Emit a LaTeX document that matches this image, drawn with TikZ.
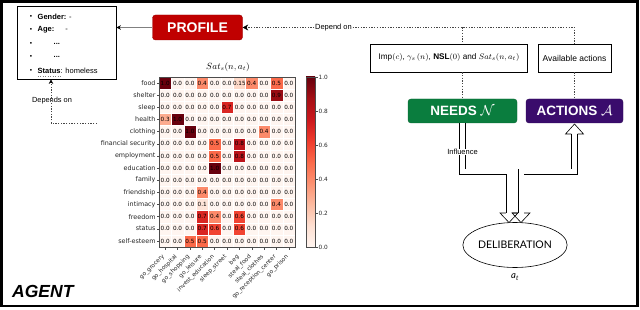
\documentclass[tikz,border=0pt]{standalone}
\usepackage{fontspec}
\setmainfont{Liberation Sans}
\newfontfamily\dejavu{DejaVu Sans}
\newfontfamily\latofam{Lato}
\usetikzlibrary{arrows.meta,shapes.geometric,calc}
\newcommand\myfs[1]{\fontsize{#1}{#1}\selectfont}
\definecolor{profred}{RGB}{192,0,0}
\definecolor{needgreen}{RGB}{10,125,62}
\definecolor{actpurple}{RGB}{58,12,108}
\definecolor{dotgray}{RGB}{70,70,70}
\definecolor{hm0}{RGB}{255,245,240}
\definecolor{hm1}{RGB}{254,228,216}
\definecolor{hmp}{RGB}{254,217,200}
\definecolor{hm3}{RGB}{252,171,143}
\definecolor{hm4}{RGB}{252,138,106}
\definecolor{hm5}{RGB}{251,106,74}
\definecolor{hm6}{RGB}{241,68,50}
\definecolor{hm7}{RGB}{217,38,35}
\definecolor{hm8}{RGB}{188,20,26}
\definecolor{hm9}{RGB}{153,12,19}
\definecolor{hmA}{RGB}{103,0,13}
\definecolor{cb0}{RGB}{255,245,240}
\definecolor{cb1}{RGB}{254,224,210}
\definecolor{cb2}{RGB}{252,187,161}
\definecolor{cb3}{RGB}{252,146,114}
\definecolor{cb4}{RGB}{251,106,74}
\definecolor{cb5}{RGB}{239,59,44}
\definecolor{cb6}{RGB}{203,24,29}
\definecolor{cb7}{RGB}{165,15,21}
\definecolor{cb8}{RGB}{103,0,13}
\begin{document}
\begin{tikzpicture}[x=1pt,y=-1pt,
  txt/.style={inner sep=0.5pt, font=\myfs{7.5}},
  dotline/.style={dotgray, line width=0.6pt, dash pattern=on 1.3pt off 1.4pt},
  colorbox/.style={rounded corners=3pt, minimum height=24pt, text=white, font=\bfseries\myfs{13.5}, inner sep=0pt},
  plainbox/.style={draw, line width=0.7pt, inner sep=0pt, font=\myfs{8.5}},
  celltxt/.style={inner sep=0pt, font=\dejavu\myfs{5.7}},
  rowlab/.style={anchor=east, inner sep=0pt, font=\dejavu\myfs{6.4}, text=black!85},
  collab/.style={anchor=east, rotate=45, inner sep=0pt, font=\dejavu\myfs{5.8}, text=black!85},
  dbl/.style={line width=0.6pt, double=white, double distance=5pt},
  head/.style={line width=0.6pt, line join=miter}
]
\useasboundingbox (0,0) rectangle (640,310);
\draw[line width=2.6pt] (1.5,1.5) rectangle (637.5,306);

% profile list
\node[draw, line width=0.9pt, minimum width=99pt, minimum height=73pt, inner sep=0pt] (plist) at (66.5,42.5) {};
\foreach \yy in {17,30,44,57,71} \node[font=\myfs{6.5}, inner sep=0pt] at (31,\yy) {\textbullet};
\node[txt, anchor=west] (gender) at (37,17) {\textbf{Gender:} -};
\node[txt, anchor=west] (age) at (37,30) {\textbf{Age:}\hspace{11pt}-};
\node[txt, anchor=west] (dots1) at (53,44) {\textbf{...}};
\node[txt, anchor=west] (dots2) at (53,57) {\textbf{...}};
\node[txt, anchor=west] (status) at (37,71) {\textbf{Status}: homeless};
\draw[gray, line width=0.5pt, dotted] (37.5,76) -- (61,76);

% PROFILE
\node[colorbox, fill=profred, draw=profred!80!black, minimum width=90pt, minimum height=25pt, font=\bfseries\myfs{14}] (profile) at (197.5,27.5) {PROFILE};
\draw[gray, line width=0.6pt, -{Stealth[length=4.5pt,width=4.5pt,black]}] (profile.west) -- (profile.west -| plist.east);

\node[font=\myfs{7.5}, inner sep=0.5pt] (dep) at (333.5,27.5) {Depend on};
\draw[dotline, -{Stealth[length=5.5pt,width=6pt,black]}] (dep.west) -- (profile.east);

% boxes
\node[plainbox, minimum width=157pt, minimum height=28pt] (imp) at (449,58) {\myfs{8.2}Imp$(c)$, $\gamma_s\,(n)$, $\mathbf{NSL}(0)$ and $Sat_s(n,a_t)$};
\node[plainbox, minimum width=73pt, minimum height=28pt] (avail) at (574.5,58) {Available actions};

\node[colorbox, fill=needgreen, draw=needgreen!80!black, minimum width=109pt] (needs) at (462.5,111) {NEEDS $\mathcal{N}$};
\node[colorbox, fill=actpurple, draw=actpurple!80!black, minimum width=97pt] (actions) at (574.5,111) {ACTIONS $\mathcal{A}$};

\draw[dotline] (dep.east) -- (dep.east -| avail.north) -- (avail.north);
\draw[dotline] (needs.north |- dep.east) -- (needs.north |- imp.north);
\draw[dotline] (needs.north |- imp.south) -- (needs.north);
\draw[dotline] (avail.south) -- (actions.north);

% deliberation
\node[ellipse, draw, line width=0.6pt, minimum width=89pt, minimum height=45pt, inner sep=0pt, font=\latofam\myfs{10.5}] (delib) at (515,245) {DELIBERATION};
\node[font=\latofam\itshape\myfs{9.5}, inner sep=0pt] (at) at (515,277) {a\textsubscript{t}};

\coordinate (lbase) at (509,213);
\coordinate (rbase) at (521,213);
\coordinate (abase) at (574.5,134);
\draw[dbl] (needs.south) |- (lbase |- 0,172) -- (lbase);
\draw[dbl] (abase) |- (rbase |- 0,172) -- (rbase);
\draw[head] ($(lbase)+(-3.1,0)$) -- ++(-5.9,0) -- ++(9,9.5) -- ++(9,-9.5) -- ++(-5.9,0);
\draw[head] ($(rbase)+(-3.1,0)$) -- ++(-5.9,0) -- ++(9,9.5) -- ++(9,-9.5) -- ++(-5.9,0);
\draw[head, fill=white] ($(abase)+(-3.1,0)$) -- ++(-5.9,0) -- ++(9,-10) -- ++(9,10) -- ++(-5.9,0);
\node[fill=white, inner sep=0.6pt, font=\myfs{7.5}] (infl) at (462.5,152) {Influence};

% heatmap
\node[font=\myfs{9}, inner sep=0pt] (title) at (228,67) {$Sat_s(n, a_t)$};
\foreach \rowvals [count=\r from 0] in {
  {hmA/1.0,hm0/0.0,hm0/0.0,hm4/0.4,hm0/0.0,hm0/0.0,hmp/0.15,hm4/0.4,hm0/0.0,hm5/0.5,hm0/0.0},
  {hm0/0.0,hm0/0.0,hm0/0.0,hm0/0.0,hm0/0.0,hm0/0.0,hm0/0.0,hm0/0.0,hm0/0.0,hm9/0.9,hm0/0.0},
  {hm0/0.0,hm0/0.0,hm0/0.0,hm0/0.0,hm0/0.0,hm7/0.7,hm0/0.0,hm0/0.0,hm0/0.0,hm0/0.0,hm0/0.0},
  {hm3/0.3,hmA/1.0,hm0/0.0,hm0/0.0,hm0/0.0,hm0/0.0,hm0/0.0,hm0/0.0,hm0/0.0,hm0/0.0,hm0/0.0},
  {hm0/0.0,hm0/0.0,hmA/1.0,hm0/0.0,hm0/0.0,hm0/0.0,hm0/0.0,hm0/0.0,hm4/0.4,hm0/0.0,hm0/0.0},
  {hm0/0.0,hm0/0.0,hm0/0.0,hm0/0.0,hm5/0.5,hm0/0.0,hm8/0.8,hm0/0.0,hm0/0.0,hm0/0.0,hm0/0.0},
  {hm0/0.0,hm0/0.0,hm0/0.0,hm0/0.0,hm5/0.5,hm0/0.0,hm8/0.8,hm0/0.0,hm0/0.0,hm0/0.0,hm0/0.0},
  {hm0/0.0,hm0/0.0,hm0/0.0,hm0/0.0,hmA/1.0,hm0/0.0,hm0/0.0,hm0/0.0,hm0/0.0,hm0/0.0,hm0/0.0},
  {hm0/0.0,hm0/0.0,hm0/0.0,hm0/0.0,hm0/0.0,hm0/0.0,hm0/0.0,hm0/0.0,hm0/0.0,hm0/0.0,hm0/0.0},
  {hm0/0.0,hm0/0.0,hm0/0.0,hm4/0.4,hm0/0.0,hm0/0.0,hm0/0.0,hm0/0.0,hm0/0.0,hm0/0.0,hm0/0.0},
  {hm0/0.0,hm0/0.0,hm0/0.0,hm1/0.1,hm0/0.0,hm0/0.0,hm0/0.0,hm0/0.0,hm0/0.0,hm4/0.4,hm0/0.0},
  {hm0/0.0,hm0/0.0,hm0/0.0,hm7/0.7,hm4/0.4,hm0/0.0,hm6/0.6,hm0/0.0,hm0/0.0,hm0/0.0,hm0/0.0},
  {hm0/0.0,hm0/0.0,hm0/0.0,hm7/0.7,hm6/0.6,hm0/0.0,hm6/0.6,hm0/0.0,hm0/0.0,hm0/0.0,hm0/0.0},
  {hm0/0.0,hm0/0.0,hm5/0.5,hm5/0.5,hm0/0.0,hm0/0.0,hm0/0.0,hm0/0.0,hm0/0.0,hm0/0.0,hm0/0.0}} {
  \foreach \cl/\t [count=\c from 0] in \rowvals {
    \fill[\cl, draw=white, line width=0.25pt] ({159+\c*12.3636},{77+\r*12.1429}) rectangle ++(12.3636,12.1429);
    \node[celltxt] (v-\r-\c) at ({159+(\c+0.5)*12.3636},{77+(\r+0.5)*12.1429}) {\t};
  }
}
\coordinate (hmtl) at (159,77);
\coordinate (hmbr) at (295,247);
\draw[black!70, line width=0.5pt] (hmtl) rectangle (hmbr);
\foreach \lab [count=\r from 0] in {food,shelter,sleep,health,clothing,financial security,employment,education,family,friendship,intimacy,freedom,status,self-esteem} {
  \coordinate (rt-\r) at (159,{77+(\r+0.5)*12.1429});
  \draw[black!70, line width=0.4pt] (rt-\r) -- ++(-2.5,0) node[rowlab, xshift=-0.8pt] (rl-\r) {\lab};
}
\foreach \lab [count=\c from 0] in {go\_grocery,go\_hospital,go\_shopping,go\_leisure,invest\_education,sleep\_street,beg,steal\_food,steal\_clothes,go\_reception\_center,go\_prison} {
  \coordinate (cb-\c) at ({159+(\c+0.5)*12.3636},247);
  \draw[black!70, line width=0.4pt] (cb-\c) -- ++(0,2.5) coordinate (ct-\c);
  \node[collab] (cl-\c) at ($(ct-\c)+(-1.2,6.5)$) {\lab};
}

% colorbar
\foreach \i/\a/\b in {0/cb0/cb1,1/cb1/cb2,2/cb2/cb3,3/cb3/cb4,4/cb4/cb5,5/cb5/cb6,6/cb6/cb7,7/cb7/cb8} {
  \shade[bottom color=\a, top color=\b] (306,{247-(\i+1)*21.25}) rectangle (315,{247-\i*21.25+0.2});
}
\draw[black!70, line width=0.5pt] (306,77) rectangle (315,247);
\foreach \v [count=\k from 0] in {0.0,0.2,0.4,0.6,0.8,1.0} {
  \draw[black!70, line width=0.4pt] (315,{247-\k*34}) -- (317.5,{247-\k*34}) node[anchor=west, inner sep=0pt, xshift=1pt, font=\dejavu\myfs{5.8}, text=black!85] (tk-\k) {\v};
}

% depends on
\node[font=\myfs{7.4}, inner sep=0pt] (depon) at (52,101) {Depends on};
\coordinate (dend) at (97,123);
\draw[dotline, -{Stealth[length=4.5pt,width=4.5pt,black]}] (dend) -| (plist.south -| 51,0);

\node[anchor=west, font=\bfseries\itshape\myfs{17.5}, inner sep=0pt] (agent) at (12,291) {AGENT};
\end{tikzpicture}
\end{document}
